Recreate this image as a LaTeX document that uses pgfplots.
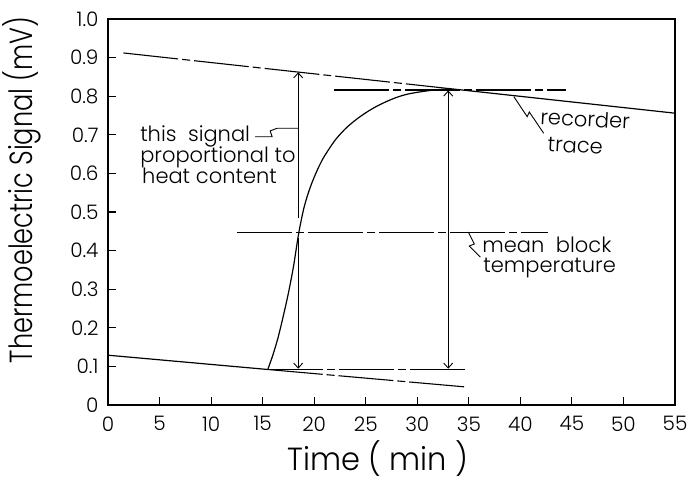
\documentclass[border=0pt]{standalone}
\usepackage{fontspec}
\setmainfont{Poppins Light}
\newfontfamily\xlfont{Poppins Light}[FakeStretch=0.95]
\newfontfamily\ylfont{Poppins Light}[FakeStretch=0.8]
\usepackage{pgfplots}
\pgfplotsset{compat=1.18}
\usetikzlibrary{arrows.meta}
\tikzset{
  traza/.style={line width=1.2bp, black},
  extra/.style={line width=1.1bp, black, dash pattern=on 55bp off 4bp on 8bp off 4bp},
  flecha/.style={line width=0.9bp, black},
  punta/.style={-{Straight Barb[length=5bp,width=9bp]}},
  nota/.style={font=\fontsize{21bp}{21bp}\selectfont, inner sep=0pt},
  guia/.style={line width=0.9bp, black},
}
\begin{document}
\begin{tikzpicture}
\begin{axis}[
  at={(0,0)}, anchor=south west, scale only axis,
  width=567bp, height=386bp,
  xmin=0, xmax=55, ymin=0, ymax=1,
  xtick={0,5,...,55},
  ytick={0,0.1,0.2,0.3,0.4,0.5,0.6,0.7,0.8,0.9,1.0},
  yticklabels={0,0.1,0.2,0.3,0.4,0.5,0.6,0.7,0.8,0.9,1.0},
  tick align=inside, xtick pos=left, ytick pos=left,
  major tick length=8bp,
  axis line style={line width=1.3bp},
  every tick/.style={line width=1.1bp, black},
  /pgf/number format/assume math mode=true,
  ticklabel style={font=\fontsize{20bp}{20bp}\selectfont},
  yticklabel style={xshift=-6bp},
  xticklabel style={yshift=-8bp},
  xlabel={Time ( min )},
  ylabel={Thermoelectric Signal (mV)},
  xlabel style={font=\xlfont\fontsize{32bp}{32bp}\selectfont, inner sep=0pt, at={(axis description cs:0.476,-0.138)}, anchor=center},
  ylabel style={font=\ylfont\fontsize{32bp}{32bp}\selectfont, at={(axis description cs:-0.152,0.557)}, anchor=center},
  clip=false,
]
% recorder trace
\addplot[traza] coordinates {(0,0.129) (15.5,0.092)};
\addplot[traza, smooth, tension=0.5] coordinates {
  (15.5,0.092) (16.0,0.13) (16.5,0.175) (17.0,0.23) (17.5,0.29) (18.0,0.36)
  (18.5,0.445) (19.0,0.51) (19.5,0.555) (20.0,0.59) (20.5,0.62) (21.0,0.645)
  (22.0,0.685) (23.0,0.715) (24.0,0.738) (25.0,0.757) (26.0,0.773) (27.0,0.786)
  (28.0,0.797) (29.0,0.805) (30.0,0.810) (31.0,0.814) (32.0,0.817) (33.0,0.819)};
\addplot[traza] coordinates {(33,0.820) (55,0.756)};
% extrapolations and reference levels
\addplot[extra] coordinates {(1.5,0.912) (33,0.820)};
\addplot[extra] coordinates {(15.5,0.092) (34.6,0.047)};
\addplot[extra] coordinates {(15.5,0.093) (34.8,0.093)};
\addplot[extra] coordinates {(21.9,0.816) (44.4,0.816)};
\addplot[extra] coordinates {(12.5,0.448) (42.7,0.448)};
% arrows
\addplot[flecha, punta] coordinates {(18.45,0.484) (18.45,0.862)};
\addplot[flecha, punta] coordinates {(18.45,0.433) (18.45,0.094)};
\addplot[flecha, {Straight Barb[length=5bp,width=9bp]}-{Straight Barb[length=5bp,width=9bp]}] coordinates {(33,0.094) (33,0.815)};
% notes
\node[nota, anchor=base west] at (axis cs:3.11,0.682) {this\ \ signal};
\node[nota, anchor=base west] at (axis cs:3.11,0.627) {proportional to};
\node[nota, anchor=base west] at (axis cs:3.3,0.573) {heat content};
\draw[guia] (axis cs:14.27,0.695) -- (axis cs:15.92,0.695) -- (axis cs:15.73,0.71) -- (axis cs:16.41,0.717) -- (axis cs:18.45,0.717);
\node[nota, anchor=base west, rotate=-3] at (axis cs:41.9,0.727) {recorder};
\node[nota, anchor=base west, rotate=-3] at (axis cs:42.6,0.657) {trace};
\draw[guia] (axis cs:39.36,0.799) -- (axis cs:40.66,0.747) -- (axis cs:40.87,0.759) -- (axis cs:42.26,0.704);
\node[nota, anchor=base west] at (axis cs:36.3,0.394) {mean\ \ block};
\node[nota, anchor=base west] at (axis cs:36.4,0.342) {temperature};
\draw[guia] (axis cs:34.95,0.448) -- (axis cs:35.53,0.417) -- (axis cs:35.05,0.412) -- (axis cs:36.12,0.383);
\end{axis}
\pgfresetboundingbox
\path[use as bounding box] (-108bp,-76bp) rectangle (584bp,405bp);
\end{tikzpicture}
\end{document}
